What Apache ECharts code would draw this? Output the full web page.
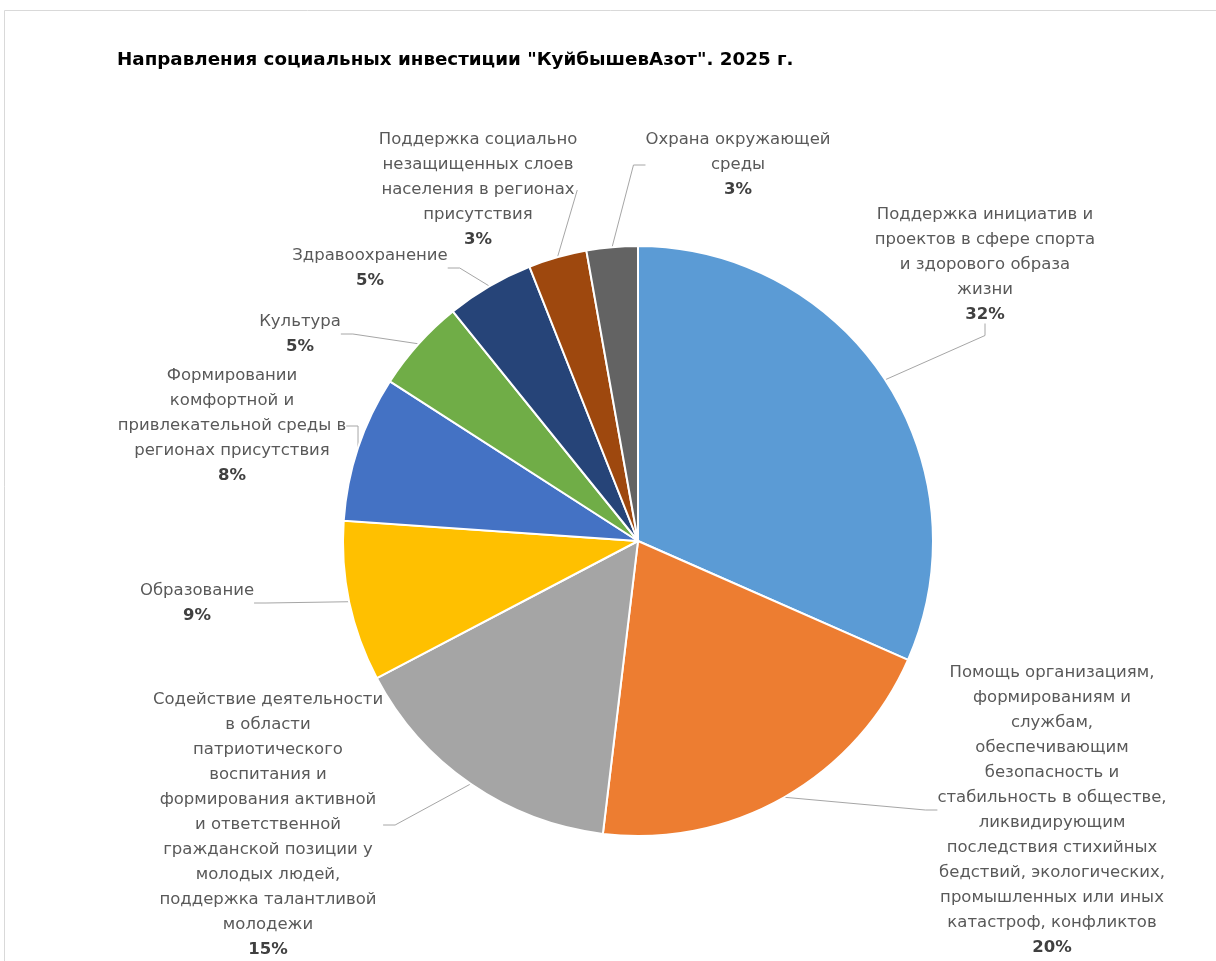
<!DOCTYPE html>
<html><head><meta charset="utf-8">
<script src="https://cdn.jsdelivr.net/npm/echarts@6/dist/echarts.min.js"></script>
<style>html,body{margin:0;padding:0;background:#fff;}#c{width:1216px;height:961px;}</style>
</head><body><div id="c"></div>
<script>
const title = 'Направления социальных инвестиции "КуйбышевАзот". 2025 г.';
const categories = [
  'Поддержка инициатив и\nпроектов в сфере спорта\nи здорового образа\nжизни',
  'Помощь организациям,\nформированиям и\nслужбам,\nобеспечивающим\nбезопасность и\nстабильность в обществе,\nликвидирующим\nпоследствия стихийных\nбедствий, экологических,\nпромышленных или иных\nкатастроф, конфликтов',
  'Содействие деятельности\nв области\nпатриотического\nвоспитания и\nформирования активной\nи ответственной\nгражданской позиции у\nмолодых людей,\nподдержка талантливой\nмолодежи',
  'Образование',
  'Формировании\nкомфортной и\nпривлекательной среды в\nрегионах присутствия',
  'Культура',
  'Здравоохранение',
  'Поддержка социально\nнезащищенных слоев\nнаселения в регионах\nприсутствия',
  'Охрана окружающей\nсреды'
];
const values = [31.6, 20.3, 15.4, 8.8, 8.0, 5.1, 4.8, 3.2, 2.8];
const colors = ['#5B9BD5','#ED7D31','#A5A5A5','#FFC000','#4472C4','#70AD47','#264478','#9E480E','#636363'];
// label block centres (layout only)
const labelPos = [[985,265],[1052,810],[268,825],[197,603],[232,426],[300,334],[370,268],[478,190],[738,165]];

const chart = echarts.init(document.getElementById('c'), null, {renderer:'canvas'});
const FONT = 'DejaVu Sans';
chart.setOption({
  animation: false,
  backgroundColor: '#fff',
  title: {
    text: title, left: 112, top: 46,
    textStyle: {fontFamily: FONT, fontSize: 18.3, fontWeight: 'bold', color: '#000'}
  },
  graphic: [{type:'rect', shape:{x:4.5,y:10.5,width:1300,height:1000}, style:{fill:'none', stroke:'#D9D9D9', lineWidth:1}, silent:true}],
  series: [{
    type: 'pie',
    center: [638, 541],
    radius: 295,
    startAngle: 90,
    clockwise: true,
    avoidLabelOverlap: false,
    percentPrecision: 0,
    itemStyle: {borderColor: '#fff', borderWidth: 2},
    data: categories.map((n, i) => ({name: n, value: values[i], itemStyle: {color: colors[i]}})),
    label: {
      show: true,
      position: 'outside',
      formatter: p => p.name.split('\n').map(l => '{n|' + l + '}').join('\n') + '\n{p|' + p.percent + '%}',
      rich: {
        n: {fontFamily: FONT, fontSize: 16.5, color: '#595959', lineHeight: 25, align: 'center'},
        p: {fontFamily: FONT, fontSize: 16.5, fontWeight: 'bold', color: '#404040', lineHeight: 25, align: 'center'}
      }
    },
    labelLine: {show: true, length: 20, length2: 12, lineStyle: {color: '#A6A6A6', width: 1}},
    labelLayout: function (params) {
      const p = labelPos[params.dataIndex];
      return {x: p[0], y: p[1], align: 'center', verticalAlign: 'middle'};
    }
  }]
});
</script></body></html>
